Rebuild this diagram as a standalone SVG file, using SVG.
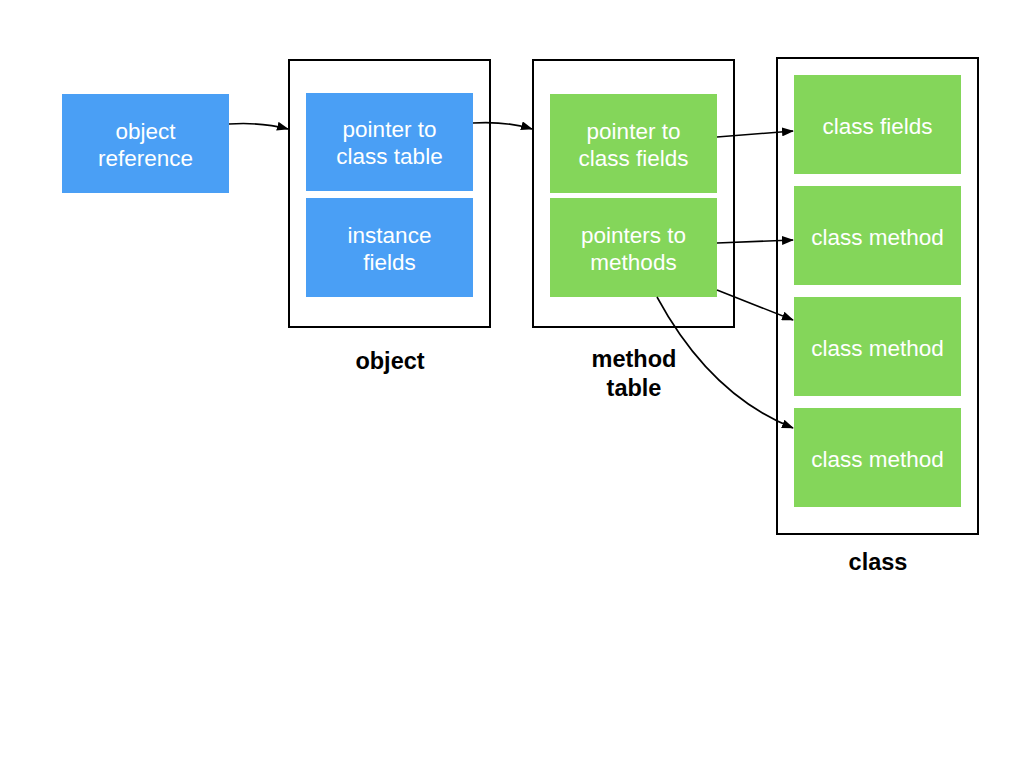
<svg xmlns="http://www.w3.org/2000/svg" width="1024" height="768" viewBox="0 0 1024 768">
  <defs>
    <marker id="arrow" markerWidth="12" markerHeight="9" refX="11" refY="4.5" orient="auto" markerUnits="userSpaceOnUse">
      <path d="M0,0 L12,4.5 L0,9 Z" fill="#000"/>
    </marker>
    <style>
      .frame { fill: #fff; stroke: #000; stroke-width: 2; }
      .blue { fill: #4A9FF5; }
      .green { fill: #84D65A; }
      .lbl { font-family: "Liberation Sans", Arial, sans-serif; font-size: 22.5px; fill: #fff; text-anchor: middle; }
      .cap { font-family: "Liberation Sans", Arial, sans-serif; font-size: 23.5px; font-weight: bold; fill: #000; text-anchor: middle; }
      .edge { fill: none; stroke: #000; stroke-width: 1.6; marker-end: url(#arrow); }
    </style>
  </defs>
  <rect width="1024" height="768" fill="#fff"/>

  <!-- object reference -->
  <g id="object-reference">
    <rect class="blue" x="62" y="94" width="167" height="99"/>
    <text class="lbl" x="145.5" y="139">object</text>
    <text class="lbl" x="145.5" y="166">reference</text>
  </g>

  <!-- object container -->
  <g id="object">
    <rect class="frame" x="289" y="60" width="201" height="267"/>
    <text class="cap" x="390" y="369">object</text>
  </g>
  <g id="pointer-to-class-table">
    <rect class="blue" x="306" y="93" width="167" height="98"/>
    <text class="lbl" x="389.5" y="137">pointer to</text>
    <text class="lbl" x="389.5" y="164">class table</text>
  </g>
  <g id="instance-fields">
    <rect class="blue" x="306" y="198" width="167" height="99"/>
    <text class="lbl" x="389.5" y="243">instance</text>
    <text class="lbl" x="389.5" y="270">fields</text>
  </g>

  <!-- method table container -->
  <g id="method-table">
    <rect class="frame" x="533" y="60" width="201" height="267"/>
    <text class="cap" x="634" y="367">method</text>
    <text class="cap" x="634" y="396">table</text>
  </g>
  <g id="pointer-to-class-fields">
    <rect class="green" x="550" y="94" width="167" height="99"/>
    <text class="lbl" x="633.5" y="139">pointer to</text>
    <text class="lbl" x="633.5" y="166">class fields</text>
  </g>
  <g id="pointers-to-methods">
    <rect class="green" x="550" y="198" width="167" height="99"/>
    <text class="lbl" x="633.5" y="243">pointers to</text>
    <text class="lbl" x="633.5" y="270">methods</text>
  </g>

  <!-- class container -->
  <g id="class">
    <rect class="frame" x="777" y="58" width="201" height="476"/>
    <text class="cap" x="878" y="570">class</text>
  </g>
  <g id="class-fields">
    <rect class="green" x="794" y="75" width="167" height="99"/>
    <text class="lbl" x="877.5" y="134">class fields</text>
  </g>
  <g id="class-method-1">
    <rect class="green" x="794" y="186" width="167" height="99"/>
    <text class="lbl" x="877.5" y="245">class method</text>
  </g>
  <g id="class-method-2">
    <rect class="green" x="794" y="297" width="167" height="99"/>
    <text class="lbl" x="877.5" y="356">class method</text>
  </g>
  <g id="class-method-3">
    <rect class="green" x="794" y="408" width="167" height="99"/>
    <text class="lbl" x="877.5" y="467">class method</text>
  </g>

  <!-- connectors -->
  <g id="connectors">
    <path class="edge" d="M229,124 Q262,122 288,129"/>
    <path class="edge" d="M473,123 Q506,121 532,129"/>
    <path class="edge" d="M717,137 L793,131"/>
    <path class="edge" d="M717,243 L793,240"/>
    <path class="edge" d="M717,290 L793,320"/>
    <path class="edge" d="M657,297 Q710,395 793,428"/>
  </g>
</svg>
